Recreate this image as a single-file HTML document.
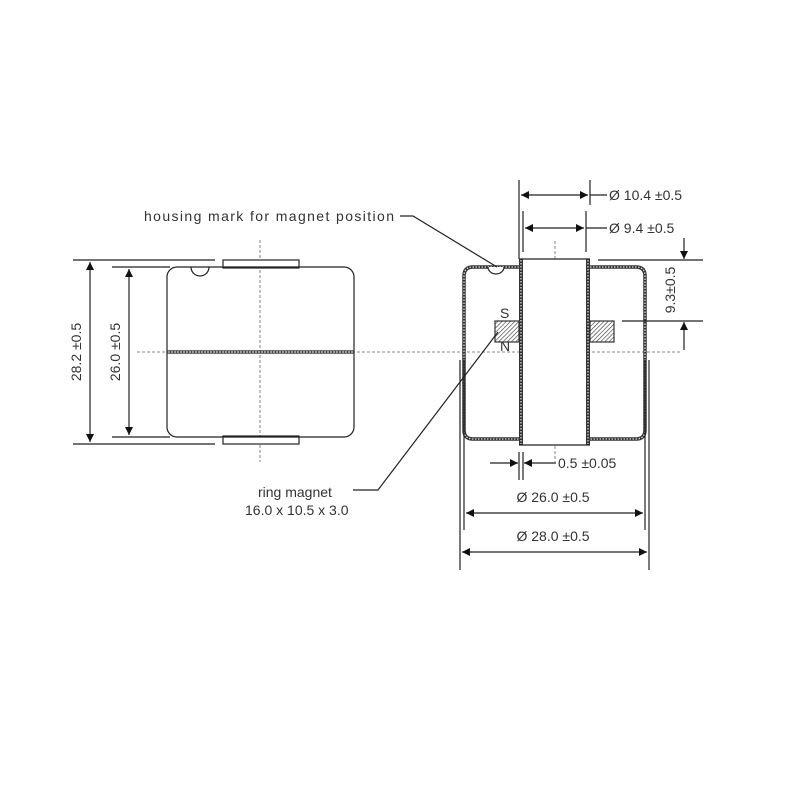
<!DOCTYPE html>
<html><head><meta charset="utf-8"><style>
html,body{margin:0;padding:0;background:#fff;}
svg{display:block;}
text{font-family:"Liberation Sans",sans-serif;fill:#333;font-size:14px;}
</style></head><body>
<svg width="786" height="786" viewBox="0 0 786 786" xmlns="http://www.w3.org/2000/svg">
<defs>
<marker id="a" viewBox="0 0 10 10" refX="10" refY="5" markerWidth="12" markerHeight="8" orient="auto-start-reverse" markerUnits="userSpaceOnUse"><path d="M0,0 L10,5 L0,10 z" fill="#111"/></marker>
<pattern id="h" width="3" height="3" patternUnits="userSpaceOnUse" patternTransform="rotate(45)"><rect width="3" height="3" fill="#fff"/><line x1="0" y1="0" x2="0" y2="3" stroke="#333" stroke-width="1.2"/></pattern>
</defs>
<g stroke="#222" stroke-width="1.2" fill="none">
<line x1="137" y1="352" x2="680" y2="352" stroke-dasharray="3,2" stroke="#666" stroke-width="0.8"/>
<line x1="260" y1="240" x2="260" y2="462" stroke-dasharray="3,2" stroke="#666" stroke-width="0.8"/>
<line x1="555" y1="241" x2="555" y2="462" stroke-dasharray="3,2" stroke="#666" stroke-width="0.8"/>
<!-- left view -->
<rect x="223" y="260" width="76" height="8" fill="#fff"/>
<rect x="223" y="436" width="76" height="8" fill="#fff"/>
<rect x="167" y="267" width="187" height="170" rx="10" fill="none"/>
<path d="M191,267 A9,9 0 0 0 209,267" />
<line x1="167" y1="352" x2="354" y2="352" stroke-width="3.5" stroke="#444"/>
<line x1="168" y1="352" x2="353" y2="352" stroke-width="1.2" stroke="#ccc" stroke-dasharray="2,1"/>
<line x1="73" y1="260" x2="215" y2="260"/>
<line x1="73" y1="444" x2="215" y2="444"/>
<line x1="112" y1="267" x2="170" y2="267"/>
<line x1="112" y1="437" x2="170" y2="437"/>
<line x1="90" y1="262" x2="90" y2="442" marker-start="url(#a)" marker-end="url(#a)"/>
<line x1="129" y1="269" x2="129" y2="435" marker-start="url(#a)" marker-end="url(#a)"/>
<!-- right view housing -->
<g stroke-width="3.5" stroke="#333">
<path d="M519,267 H473 Q464,267 464,276 V430 Q464,439 473,439 H519"/>
<path d="M590,267 H636 Q645,267 645,276 V430 Q645,439 636,439 H590"/>
</g>
<g stroke-width="1.3" stroke="#ddd" stroke-dasharray="1.5,1.5">
<path d="M519,267 H473 Q464,267 464,276 V430 Q464,439 473,439 H519"/>
<path d="M590,267 H636 Q645,267 645,276 V430 Q645,439 636,439 H590"/>
</g>
<path d="M488,267 A8,7 0 0 0 504,267" fill="#fff"/>
<rect x="519" y="259" width="71" height="186" fill="#fff" stroke="none"/>
<line x1="521" y1="259" x2="521" y2="445" stroke-width="4" stroke="#333"/>
<line x1="588" y1="259" x2="588" y2="445" stroke-width="4" stroke="#333"/>
<line x1="521" y1="260" x2="521" y2="444" stroke-width="1.3" stroke="#ddd" stroke-dasharray="1.5,1.5"/>
<line x1="588" y1="260" x2="588" y2="444" stroke-width="1.3" stroke="#ddd" stroke-dasharray="1.5,1.5"/>
<line x1="519" y1="259" x2="590" y2="259"/>
<line x1="519" y1="445" x2="590" y2="445"/>
<rect x="495" y="321" width="24" height="21" fill="url(#h)" stroke="#333"/>
<rect x="590" y="321" width="24" height="21" fill="url(#h)" stroke="#333"/>
<!-- top dims -->
<line x1="519" y1="180" x2="519" y2="259"/>
<line x1="590" y1="180" x2="590" y2="205"/>
<line x1="523" y1="211" x2="523" y2="252"/>
<line x1="586" y1="211" x2="586" y2="252"/>
<line x1="521" y1="195" x2="588" y2="195" marker-start="url(#a)" marker-end="url(#a)"/>
<line x1="590" y1="195" x2="607" y2="195"/>
<line x1="525" y1="228" x2="584" y2="228" marker-start="url(#a)" marker-end="url(#a)"/>
<line x1="586" y1="228" x2="607" y2="228"/>
<line x1="598" y1="260" x2="703" y2="260"/>
<line x1="622" y1="321" x2="703" y2="321"/>
<line x1="684" y1="238" x2="684" y2="259" marker-end="url(#a)"/>
<line x1="684" y1="350" x2="684" y2="322" marker-end="url(#a)"/>
<!-- bottom dims -->
<line x1="460" y1="360" x2="460" y2="570"/>
<line x1="464" y1="360" x2="464" y2="530"/>
<line x1="645" y1="360" x2="645" y2="530"/>
<line x1="649" y1="360" x2="649" y2="570"/>
<line x1="519" y1="452" x2="519" y2="480"/>
<line x1="523" y1="452" x2="523" y2="480"/>
<line x1="490" y1="463" x2="518" y2="463" marker-end="url(#a)"/>
<line x1="556" y1="463" x2="524" y2="463" marker-end="url(#a)"/>
<line x1="466" y1="513" x2="643" y2="513" marker-start="url(#a)" marker-end="url(#a)"/>
<line x1="462" y1="552" x2="647" y2="552" marker-start="url(#a)" marker-end="url(#a)"/>
<polyline points="400,216 413,216 497,267"/>
<polyline points="353,490 378,490 498,332"/>
</g>
<text x="144" y="221" textLength="250">housing mark for magnet position</text>
<text x="258" y="497">ring magnet</text>
<text x="245" y="515">16.0 x 10.5 x 3.0</text>
<text x="609" y="200">Ø 10.4 ±0.5</text>
<text x="609" y="233">Ø 9.4 ±0.5</text>
<text x="558" y="468">0.5 ±0.05</text>
<text x="553" y="502" text-anchor="middle">Ø 26.0 ±0.5</text>
<text x="553" y="541" text-anchor="middle">Ø 28.0 ±0.5</text>
<text x="500" y="318" font-size="9">S</text>
<text x="500" y="351" font-size="9">N</text>
<text transform="translate(81,352) rotate(-90)" text-anchor="middle">28.2 ±0.5</text>
<text transform="translate(120,352) rotate(-90)" text-anchor="middle">26.0 ±0.5</text>
<text transform="translate(675,290) rotate(-90)" text-anchor="middle">9.3±0.5</text>
</svg>
</body></html>
